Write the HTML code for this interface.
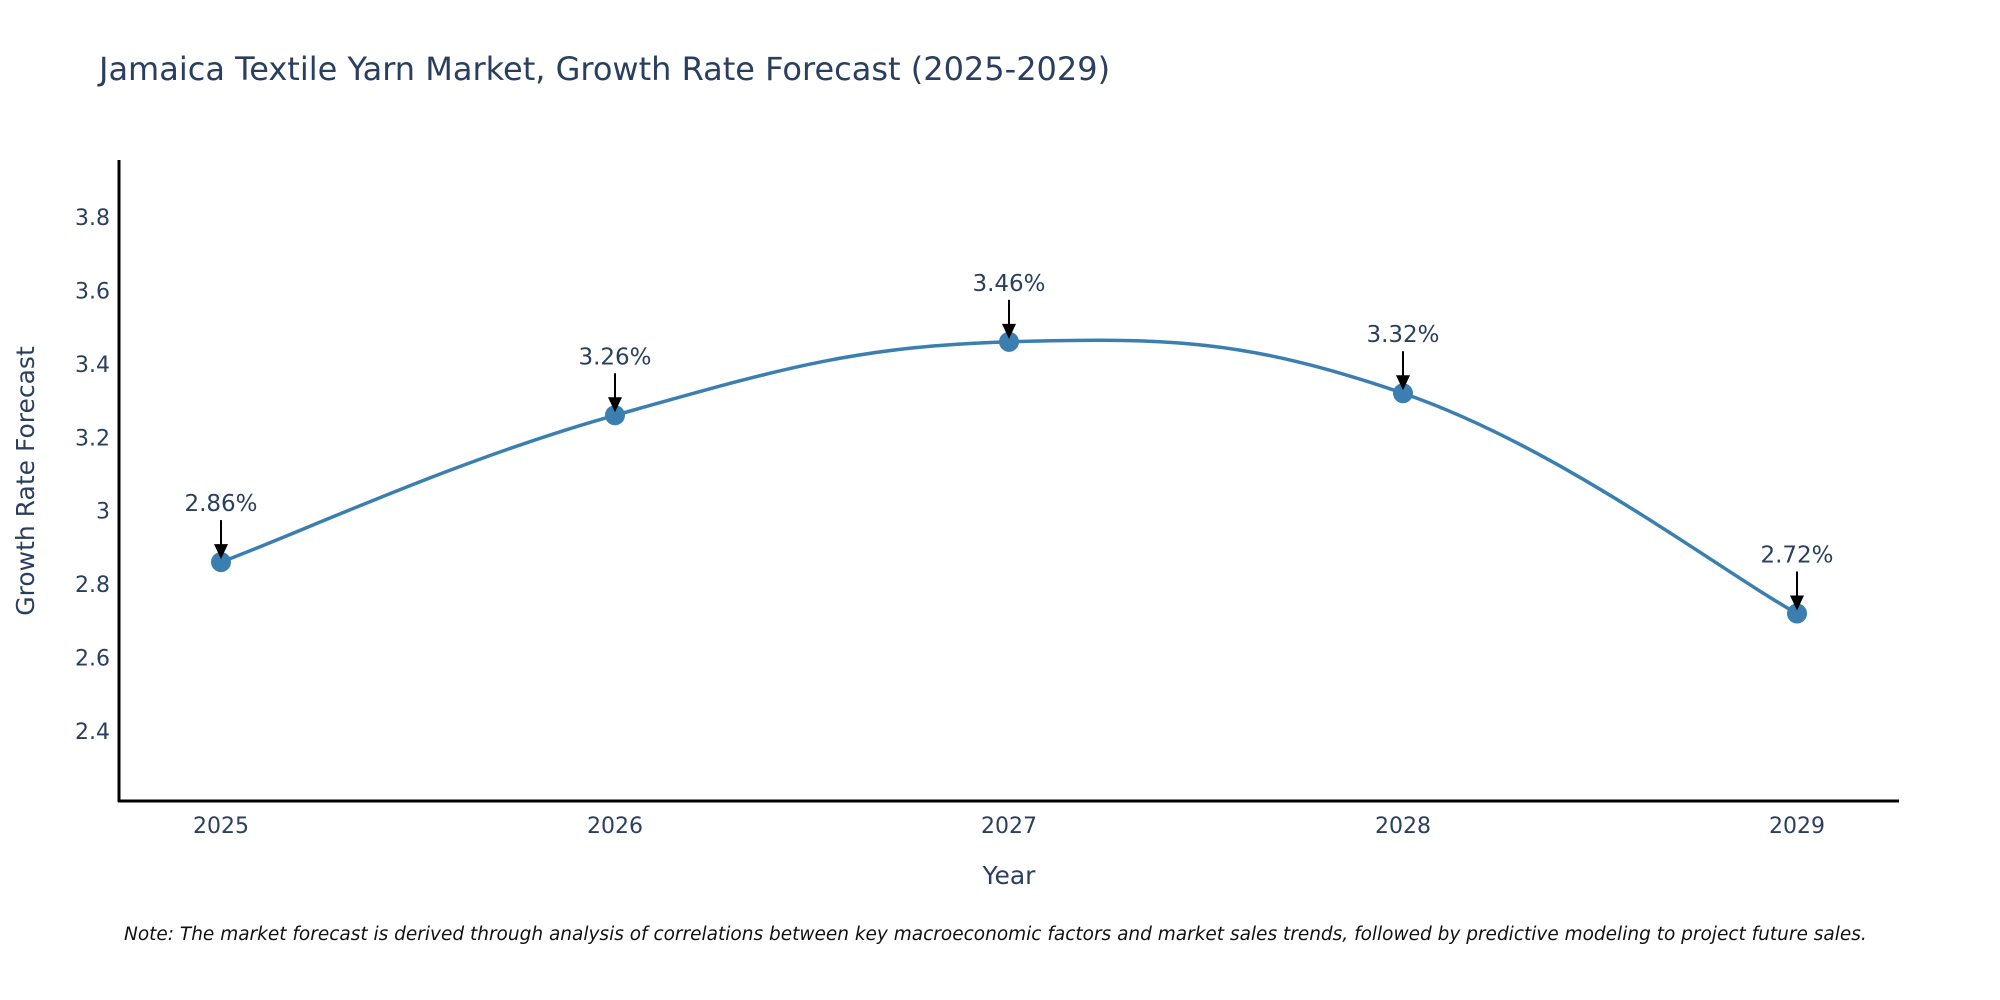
<!DOCTYPE html>
<html><head><meta charset="utf-8"><style>
body{margin:0;background:#fff}
svg{display:block;font-family:"DejaVu Sans","Liberation Sans",sans-serif}
</style></head><body>
<svg id="chart" width="2000" height="1000" viewBox="0 0 2000 1000">
<text x="99" y="80" font-size="32" fill="#2a3f5f">Jamaica Textile Yarn Market, Growth Rate Forecast (2025-2029)</text>
<g id="yticks"></g>
<g id="xticks"></g>
<path id="line" fill="none" stroke="#3b7fb0" stroke-width="3.5"/>
<g id="pts"></g>
<line x1="119" y1="160" x2="119" y2="802" stroke="#000" stroke-width="3"/>
<line x1="118" y1="801" x2="1899" y2="801" stroke="#000" stroke-width="3"/>
<text transform="translate(34,481) rotate(-90)" text-anchor="middle" font-size="25" fill="#2a3f5f">Growth Rate Forecast</text>
<text x="1009" y="884" text-anchor="middle" font-size="25" fill="#2a3f5f">Year</text>
<text x="124" y="940" font-size="18.5" font-style="italic" fill="#111">Note: The market forecast is derived through analysis of correlations between key macroeconomic factors and market sales trends, followed by predictive modeling to project future sales.</text>
</svg>
<script>
const years = ["2025","2026","2027","2028","2029"];
const values = [2.86, 3.26, 3.46, 3.32, 2.72];
const yTickVals = [2.4, 2.6, 2.8, 3, 3.2, 3.4, 3.6, 3.8];
const yTickLabels = ["2.4","2.6","2.8","3","3.2","3.4","3.6","3.8"];
const NS = "http://www.w3.org/2000/svg";
const X0 = 221, XSTEP = (1797-221)/4;
function xs(i){return X0 + i*XSTEP;}
function ys(v){return 731 - (v-2.4)*(514/1.4);}
const yt = document.getElementById('yticks');
yTickVals.forEach((v,i)=>{
  const t=document.createElementNS(NS,'text');
  
  
  t.setAttribute('x',110);t.setAttribute('y',ys(v)+8);
  t.setAttribute('text-anchor','end');t.setAttribute('font-size','22');t.setAttribute('fill','#2a3f5f');
  t.textContent=yTickLabels[i];yt.appendChild(t);
});
const xt = document.getElementById('xticks');
years.forEach((y,i)=>{
  const t=document.createElementNS(NS,'text');
  
  
  t.setAttribute('x',xs(i));t.setAttribute('y',833);
  t.setAttribute('text-anchor','middle');t.setAttribute('font-size','22');t.setAttribute('fill','#2a3f5f');
  t.textContent=y;xt.appendChild(t);
});
const P = values.map((v,i)=>[xs(i),ys(v)]);
let d = `M${P[0][0]},${P[0][1]}`;
const k=0.2;
for(let i=0;i<P.length-1;i++){
  const p0=P[Math.max(i-1,0)],p1=P[i],p2=P[i+1],p3=P[Math.min(i+2,P.length-1)];
  const c1=[p1[0]+(p2[0]-p0[0])*k, p1[1]+(p2[1]-p0[1])*k];
  const c2=[p2[0]-(p3[0]-p1[0])*k, p2[1]-(p3[1]-p1[1])*k];
  d+=` C${c1[0]},${c1[1]} ${c2[0]},${c2[1]} ${p2[0]},${p2[1]}`;
}
document.getElementById('line').setAttribute('d',d);
const pts=document.getElementById('pts');
P.forEach((p,i)=>{
  const c=document.createElementNS(NS,'circle');
  
  
  c.setAttribute('cx',p[0]);c.setAttribute('cy',p[1]);c.setAttribute('r',10);c.setAttribute('fill','#3b7fb0');
  pts.appendChild(c);
  const l=document.createElementNS(NS,'line');
  
  
  l.setAttribute('x1',p[0]);l.setAttribute('y1',p[1]-42);l.setAttribute('x2',p[0]);l.setAttribute('y2',p[1]-14);
  l.setAttribute('stroke','#000');l.setAttribute('stroke-width','2');
  pts.appendChild(l);
  const h=document.createElementNS(NS,'polygon');
  
  
  h.setAttribute('points',`${p[0]-7},${p[1]-18} ${p[0]+7},${p[1]-18} ${p[0]},${p[1]-3}`);
  h.setAttribute('fill','#000');
  pts.appendChild(h);
  const t=document.createElementNS(NS,'text');
  
  
  t.setAttribute('x',p[0]);t.setAttribute('y',p[1]-51);
  t.setAttribute('text-anchor','middle');t.setAttribute('font-size','23');t.setAttribute('fill','#2a3f5f');
  t.textContent=values[i].toFixed(2)+'%';
  pts.appendChild(t);
});
</script>
</body></html>
